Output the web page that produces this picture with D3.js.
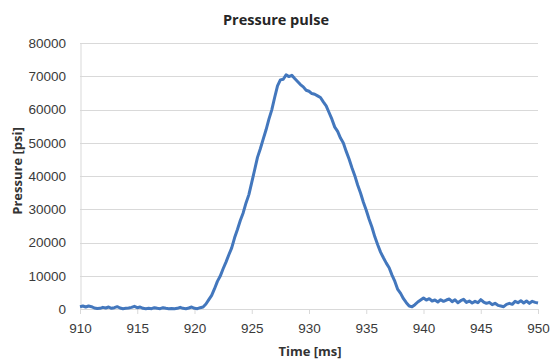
<!DOCTYPE html>
<html>
<head>
<meta charset="utf-8">
<script src="https://cdn.jsdelivr.net/npm/d3@7"></script>
<style>
  body { margin: 0; background: #fff; }
  svg { display: block; font-family: "Open Sans", sans-serif; }
  .tick text { fill: #3a3a3a; font-size: 13.5px; }
  .title { fill: #262626; font-weight: bold; font-size: 14.5px; }
  .axis-label { fill: #333; font-weight: bold; font-size: 13px; }
</style>
</head>
<body>
<svg id="chart" width="550" height="361"></svg>
<script>
// sampled every 0.25 ms starting at 910 ms
const startTime = 910;
const sampleStep = 0.25;
const pressure = [
  700, 900, 600, 900,   700, 300, 150, 200,   500, 300, 600, 200,   400, 700, 300, 100,
  200, 300, 500, 800,   400, 600, 200, 100,   200, 100, 400, 200,   100, 400, 200, 100,
  150, 100, 200, 500,   200, 100, 300, 600,   200, 100, 400, 600,
  1500, 2800, 4100, 6100,       8300, 9900, 12100, 14100,     16300, 18400, 21400, 23900,
  26600, 28900, 31900, 34400,   38100, 41800, 45600, 48200,   51100, 53900, 57100, 59900,
  63600, 67100, 68900, 69100,   70400, 69900, 70300, 69300,   68400, 67500, 66800, 65800,
  65500, 64800, 64600, 64100,   63600, 62300, 61100, 59100,   57100, 54700, 53400, 51400,
  49900, 47400, 45100, 42500,   40100, 37300, 34900, 32100,   29700, 27000, 24600, 21700,
  19300, 17100, 15400, 13800,   12400, 10200, 8300, 5900,     4700, 3100, 1900, 900,
  700, 1300, 2100, 2700,        3300, 2700, 3100, 2400,       2700, 2100, 2800, 2300,
  2700, 3000, 2200, 2800,       1900, 2500, 2900, 2000,       2400, 1800, 2300, 1900,
  2800, 2100, 1700, 2000,       1300, 1700, 1100, 900,        700, 1400, 1700, 1400,
  2300, 1900, 2500, 1800,       2400, 1700, 2300, 2000,       1800
];
const xTicks = [910, 915, 920, 925, 930, 935, 940, 945, 950];
const yTicks = [0, 10000, 20000, 30000, 40000, 50000, 60000, 70000, 80000];

const svg = d3.select("#chart");
const margin = { top: 43, right: 12, bottom: 52, left: 80 };
const width = 550 - margin.left - margin.right;
const height = 361 - margin.top - margin.bottom;

const x = d3.scaleLinear().domain([910, 950]).range([0, width]);
const y = d3.scaleLinear().domain([0, 80000]).range([height, 0]);

const g = svg.append("g").attr("transform", `translate(${margin.left},${margin.top})`);

// gridlines
g.append("g")
  .selectAll("line")
  .data(yTicks.slice(1))
  .join("line")
  .attr("x1", 0).attr("x2", width)
  .attr("y1", (d) => Math.round(y(d)) + 0.5).attr("y2", (d) => Math.round(y(d)) + 0.5)
  .attr("stroke", "#d9d9d9");

// y axis
const yAxis = g.append("g")
  .call(d3.axisLeft(y).tickValues(yTicks).tickSize(0).tickPadding(14).tickFormat(d3.format("d")));
yAxis.select(".domain").attr("stroke", "#d9d9d9").attr("transform", "translate(0.5,0)");

// x axis
const xAxis = g.append("g")
  .attr("transform", `translate(0,${height})`)
  .call(d3.axisBottom(x).tickValues(xTicks).tickSizeInner(5).tickSizeOuter(0).tickPadding(9).tickFormat(d3.format("d")));
xAxis.select(".domain").attr("stroke", "#d9d9d9");
xAxis.selectAll(".tick line").attr("stroke", "#d9d9d9");

// line
const series = pressure.map((v, i) => [startTime + i * sampleStep, v]);
g.append("path")
  .datum(series)
  .attr("fill", "none")
  .attr("stroke", "#4377bd")
  .attr("stroke-width", 3)
  .attr("stroke-linejoin", "round")
  .attr("d", d3.line().x((d) => x(d[0])).y((d) => y(d[1])));

// titles
svg.append("text")
  .attr("class", "title")
  .attr("x", 276).attr("y", 25)
  .attr("text-anchor", "middle")
  .text("Pressure pulse");

svg.append("text")
  .attr("class", "axis-label")
  .attr("x", 310).attr("y", 356)
  .attr("text-anchor", "middle")
  .text("Time [ms]");

svg.append("text")
  .attr("class", "axis-label")
  .attr("transform", "translate(22,171) rotate(-90)")
  .attr("text-anchor", "middle")
  .text("Pressure [psi]");
</script>
</body>
</html>
